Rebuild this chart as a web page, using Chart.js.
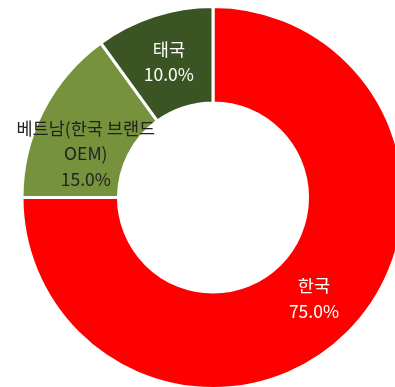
<!DOCTYPE html>
<html>
<head>
<meta charset="utf-8">
<script src="https://cdn.jsdelivr.net/npm/chart.js@4/dist/chart.umd.min.js"></script>
<style>
  html, body { margin: 0; padding: 0; background: #ffffff; overflow: hidden; }
  body { width: 395px; height: 387px; position: relative; }
  #wrap { position: absolute; left: 0; top: 0; width: 426px; height: 395px; }
</style>
</head>
<body>
<div id="wrap"><canvas id="c" width="426" height="395"></canvas></div>
<script>
// Share of supply by country (%)
const categories = ['한국', '베트남(한국 브랜드 OEM)', '태국'];
const labelLines = [['한국'], ['베트남(한국 브랜드', 'OEM)'], ['태국']];
const shares = [75.0, 15.0, 10.0];
const sliceColors = ['#ff0000', '#76923c', '#3b5424'];
const labelColors = ['#ffffff', '#222222', '#ffffff'];

const FONT = '"Noto Sans CJK KR", "Noto Sans", sans-serif';

// Draws the category name and percentage inside each ring segment
const sliceLabels = {
  id: 'sliceLabels',
  afterDatasetsDraw(chart, args, opts) {
    const ctx = chart.ctx;
    const meta = chart.getDatasetMeta(0);
    ctx.save();
    ctx.font = '17.5px ' + FONT;
    ctx.textAlign = 'center';
    ctx.textBaseline = 'middle';
    meta.data.forEach((arc, i) => {
      const p = arc.tooltipPosition();
      const lines = labelLines[i].concat([shares[i].toFixed(1) + '%']);
      const lh = opts.lineHeight;
      const dy = (opts.shiftY && opts.shiftY[i]) || 0;
      const y0 = p.y + dy - (lines.length - 1) * lh / 2;
      ctx.fillStyle = labelColors[i];
      lines.forEach((t, k) => ctx.fillText(t, p.x, y0 + k * lh));
    });
    ctx.restore();
  }
};

new Chart(document.getElementById('c'), {
  type: 'doughnut',
  data: {
    labels: categories,
    datasets: [{
      data: shares,
      backgroundColor: sliceColors,
      borderColor: '#ffffff',
      borderWidth: 3
    }]
  },
  options: {
    responsive: false,
    animation: false,
    radius: 191,
    cutout: 97,
    layout: { padding: 0 },
    plugins: {
      legend: { display: false },
      tooltip: { enabled: false },
      sliceLabels: { lineHeight: 25.5, shiftY: [0, 21, 0] }
    }
  },
  plugins: [sliceLabels]
});
</script>
</body>
</html>
